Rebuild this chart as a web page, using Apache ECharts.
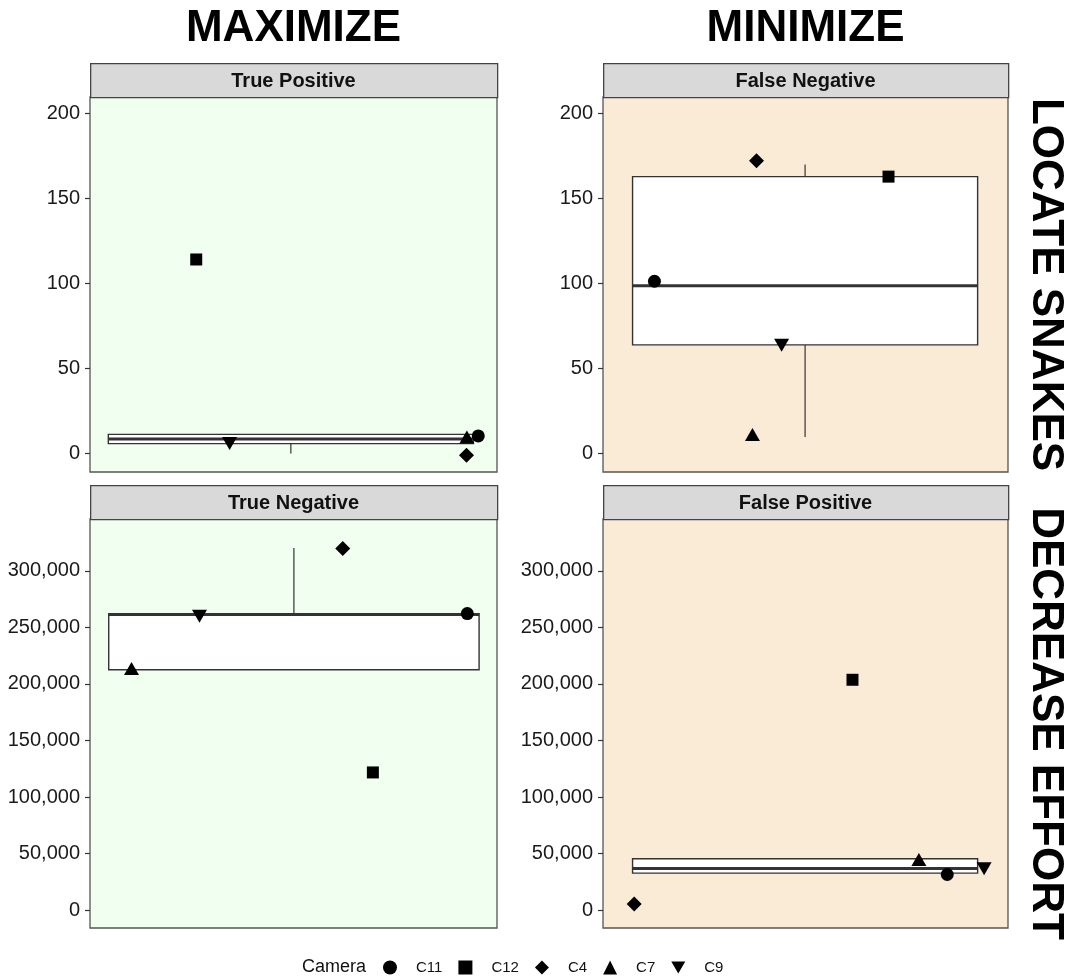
<!DOCTYPE html>
<html>
<head>
<meta charset="utf-8">
<script src="https://cdn.jsdelivr.net/npm/echarts@6/dist/echarts.min.js"></script>
<style>
html,body{margin:0;padding:0;background:#fff;}
#chart{width:1074px;height:978px;}
</style>
</head>
<body>
<div id="chart"></div>
<script>
// ---- data ----
const cameras = ['C11', 'C12', 'C4', 'C7', 'C9'];
const panelNames = ['True Positive', 'False Negative', 'True Negative', 'False Positive'];
const columnTitles = ['MAXIMIZE', 'MINIMIZE'];
const rowTitles = ['LOCATE SNAKES', 'DECREASE EFFORT'];

// point values per panel, in camera order C11, C12, C4, C7, C9
const valuesTP = [10.4, 114.1, -1, 9.8, 6.0];
const valuesFN = [101.3, 162.8, 172.1, 11.2, 63.7];
const valuesTN = [262200, 121800, 319800, 213700, 259800];
const valuesFP = [31600, 203700, 5600, 44900, 36700];

// horizontal jitter positions (fraction of panel width), camera order
const jitterTP = [0.954, 0.261, 0.925, 0.926, 0.343];
const jitterFN = [0.127, 0.705, 0.379, 0.369, 0.441];
const jitterTN = [0.927, 0.695, 0.621, 0.102, 0.269];
const jitterFP = [0.850, 0.616, 0.077, 0.780, 0.941];

// boxplot stats: [lower whisker, Q1, median, Q3, upper whisker]
const boxTP = [0, 5.9, 8.6, 11.3, 11.3];
const boxFN = [9.8, 63.9, 98.7, 162.8, 169.9];
const boxTN = [212500, 212500, 261300, 262000, 320100];
const boxFP = [32800, 32800, 36900, 45500, 45500];

// tick labels
const ticksTop = [0, 50, 100, 150, 200];
const ticksBottom = [0, 50000, 100000, 150000, 200000, 250000, 300000];

// ---- layout / style ----
const FONT = "'Liberation Sans', Arial, Helvetica, sans-serif";
const panelValues = [valuesTP, valuesFN, valuesTN, valuesFP];
const panelJitter = [jitterTP, jitterFN, jitterTN, jitterFP];
const panelBoxes = [boxTP, boxFN, boxTN, boxFP];
const boxExtent = [[0.045, 0.942], [0.073, 0.925], [0.046, 0.956], [0.073, 0.925]];
const colX = [{left: 90, width: 407}, {left: 603, width: 405}];
const rowY = [{stripTop: 63, top: 97, height: 375}, {stripTop: 485, top: 519, height: 409}];
const yRange = [[-10.8, 209.6], [-15700, 345800]];
const rowTicks = [ticksTop, ticksBottom];
const panelBg = ['#F0FFF0', '#FAEBD7'];
const symbols = {
  'C11': {symbol: 'circle', size: 13},
  'C12': {symbol: 'rect', size: 12},
  'C4': {symbol: 'diamond', size: [15, 15]},
  'C7': {symbol: 'triangle', size: [15, 13]},
  'C9': {symbol: 'path://M0,0L20,0L10,17.3Z', size: [15, 13]}
};

const grids = [], xAxes = [], yAxes = [], series = [], graphics = [];

for (let p = 0; p < 4; p++) {
  const col = p % 2, row = Math.floor(p / 2);
  const cx = colX[col], ry = rowY[row];
  grids.push({
    left: cx.left, top: ry.top, width: cx.width, height: ry.height,
    show: true, backgroundColor: panelBg[col], borderColor: '#555', borderWidth: 1.3
  });
  xAxes.push({gridIndex: p, type: 'value', min: 0, max: 1, show: false});
  const ticks = rowTicks[row];
  yAxes.push({
    gridIndex: p, type: 'value', min: yRange[row][0], max: yRange[row][1],
    axisLine: {show: false}, splitLine: {show: false},
    axisTick: {show: true, length: 5, lineStyle: {color: '#333', width: 1.2}, customValues: ticks},
    axisLabel: {
      customValues: ticks, fontSize: 20, color: '#1a1a1a', fontFamily: FONT, margin: 10,
      formatter: v => Number(v).toLocaleString('en-US')
    }
  });
  // strip
  graphics.push({
    type: 'rect', left: cx.left, top: ry.stripTop,
    shape: {width: cx.width, height: ry.top - ry.stripTop},
    style: {fill: '#D9D9D9', stroke: '#444', lineWidth: 1.3}, z: 10
  });
  graphics.push({
    type: 'text', x: cx.left + cx.width / 2, y: (ry.stripTop + ry.top) / 2 + 1,
    style: {text: panelNames[p], fill: '#111', font: 'bold 20px ' + FONT, textAlign: 'center', textVerticalAlign: 'middle'},
    z: 11
  });
  // boxplot via custom series
  const ext = boxExtent[p];
  series.push({
    type: 'custom', xAxisIndex: p, yAxisIndex: p, z: 1, silent: true,
    data: [panelBoxes[p]],
    renderItem: function (params, api) {
      const lo = api.value(0), q1 = api.value(1), med = api.value(2), q3 = api.value(3), hi = api.value(4);
      const xl = ext[0], xr = ext[1], xm = (xl + xr) / 2;
      const a = api.coord([xl, q3]), b = api.coord([xr, q1]);
      const m1 = api.coord([xl, med]), m2 = api.coord([xr, med]);
      const wTop1 = api.coord([xm, q3]), wTop2 = api.coord([xm, hi]);
      const wBot1 = api.coord([xm, q1]), wBot2 = api.coord([xm, lo]);
      const stroke = '#333';
      return {
        type: 'group', children: [
          {type: 'line', shape: {x1: wTop1[0], y1: wTop1[1], x2: wTop2[0], y2: wTop2[1]}, style: {stroke: stroke, lineWidth: 1.2}},
          {type: 'line', shape: {x1: wBot1[0], y1: wBot1[1], x2: wBot2[0], y2: wBot2[1]}, style: {stroke: stroke, lineWidth: 1.2}},
          {type: 'rect', shape: {x: a[0], y: a[1], width: b[0] - a[0], height: b[1] - a[1]}, style: {fill: '#fff', stroke: stroke, lineWidth: 1.4}},
          {type: 'line', shape: {x1: m1[0], y1: m1[1], x2: m2[0], y2: m2[1]}, style: {stroke: stroke, lineWidth: 3}}
        ]
      };
    }
  });
  // points
  cameras.forEach((cam, c) => {
    series.push({
      type: 'scatter', name: cam, xAxisIndex: p, yAxisIndex: p, z: 5,
      symbol: symbols[cam].symbol, symbolSize: symbols[cam].size,
      itemStyle: {color: '#000', opacity: 1},
      data: [[panelJitter[p][c], panelValues[p][c]]]
    });
  });
}

// column titles
columnTitles.forEach((t, i) => {
  graphics.push({
    type: 'text', x: colX[i].left + colX[i].width / 2, y: 29,
    style: {text: t, fill: '#000', font: 'bold 44px ' + FONT, textAlign: 'center', textVerticalAlign: 'middle'}
  });
});
// row titles (rotated clockwise)
rowTitles.forEach((t, i) => {
  graphics.push({
    type: 'text', x: 1045, y: rowY[i].top + rowY[i].height / 2, rotation: -Math.PI / 2,
    style: {text: t, fill: '#000', font: 'bold 44px ' + FONT, textAlign: 'center', textVerticalAlign: 'middle'}
  });
});
// legend title
graphics.push({
  type: 'text', x: 302, y: 967,
  style: {text: 'Camera', fill: '#111', font: '18px ' + FONT, textAlign: 'left', textVerticalAlign: 'middle'}
});

const chart = echarts.init(document.getElementById('chart'), null, {renderer: 'canvas'});
chart.setOption({
  backgroundColor: '#fff',
  animation: false,
  grid: grids,
  xAxis: xAxes,
  yAxis: yAxes,
  legend: {
    data: cameras, left: 383, top: 960, orient: 'horizontal', padding: 0,
    itemWidth: 14, itemHeight: 14, itemGap: 16, selectedMode: false,
    textStyle: {fontSize: 15, color: '#111', fontFamily: FONT, padding: [0, 0, 0, 14]}
  },
  graphic: graphics,
  series: series
});
</script>
</body>
</html>
